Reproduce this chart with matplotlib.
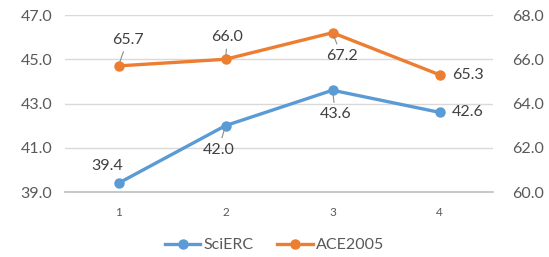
import matplotlib
matplotlib.use('Agg')
import matplotlib.pyplot as plt

plt.rcParams['font.family'] = ['Lato', 'DejaVu Sans']

# data
steps = [1, 2, 3, 4]
scierc = [39.4, 42.0, 43.6, 42.6]
ace2005 = [65.7, 66.0, 67.2, 65.3]
left_ticks = [39.0, 41.0, 43.0, 45.0, 47.0]
right_ticks = [60.0, 62.0, 64.0, 66.0, 68.0]

# label offsets in pixels (dx, dy) and whether a leader line is drawn
scierc_off = [(-11, 17, False), (-7, -24, True), (3, -24, True), (28, 0, False)]
ace_off = [(9, 26, True), (2, 22, True), (9, -23, True), (28, 0, False)]

blue = '#5b9bd5'
orange = '#ed7d31'
txt = '#595959'

fig = plt.figure(figsize=(5.49, 2.57), dpi=100)
ax = fig.add_axes([0.1184, 0.2529, 0.7796, 0.6887])
ax2 = ax.twinx()

ax.plot(steps, scierc, color=blue, lw=2.4, marker='o', ms=6.5, label='SciERC', zorder=3)
ax2.plot(steps, ace2005, color=orange, lw=2.4, marker='o', ms=6.5, label='ACE2005', zorder=3)

ax.set_xlim(0.5, 4.5)
ax.set_ylim(39, 47)
ax2.set_ylim(60, 68)
ax.set_xticks(steps)
ax.set_xticklabels([str(s) for s in steps])
ax.set_yticks(left_ticks)
ax.set_yticklabels(['%.1f' % v for v in left_ticks])
ax2.set_yticks(right_ticks)
ax2.set_yticklabels(['%.1f' % v for v in right_ticks])

ax.grid(axis='y', color='#d9d9d9', lw=1)
ax.set_axisbelow(True)
for a in (ax, ax2):
    for s in a.spines.values():
        s.set_visible(False)
    a.tick_params(length=0)
ax.spines['bottom'].set_visible(True)
ax.spines['bottom'].set_color('#bfbfbf')
ax.spines['bottom'].set_linewidth(1.2)

ax.tick_params(axis='y', labelsize=11.5, labelcolor=txt, pad=9)
ax2.tick_params(axis='y', labelsize=11.5, labelcolor=txt, pad=14)
ax.tick_params(axis='x', labelsize=8.5, labelcolor=txt, pad=11)


def put_labels(a, ys, offs):
    for x, y, (dx, dy, lead) in zip(steps, ys, offs):
        props = None
        if lead:
            props = dict(arrowstyle='-', color='#8c8c8c', lw=0.8, shrinkA=1.5, shrinkB=3)
        a.annotate('%.1f' % y, (x, y), xytext=(dx, dy), textcoords='offset pixels',
                   ha='center', va='center', fontsize=11.5, color='#404040',
                   arrowprops=props, zorder=4)


put_labels(ax, scierc, scierc_off)
put_labels(ax2, ace2005, ace_off)

h1, l1 = ax.get_legend_handles_labels()
h2, l2 = ax2.get_legend_handles_labels()
fig.legend(h1 + h2, l1 + l2, loc='center', bbox_to_anchor=(0.5, 1 - 245 / 257),
           ncol=2, frameon=False, fontsize=11.5, labelcolor=txt,
           handlelength=2.2, handletextpad=0.2, columnspacing=1.5)

fig.savefig('out.png', dpi=100)
